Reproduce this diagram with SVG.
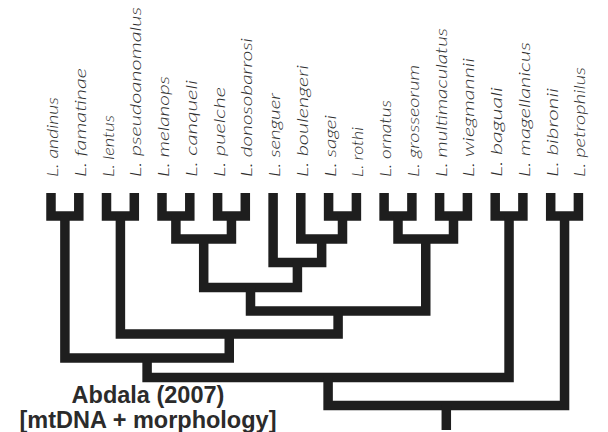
<svg xmlns="http://www.w3.org/2000/svg" width="608" height="432" viewBox="0 0 608 432">
<style>
.t{font-family:Lato,"Open Sans","Liberation Sans",sans-serif;font-style:italic;font-weight:300;font-size:16.5px;fill:#2e2e2e}
.e{fill:none;stroke:#1e1e1e;stroke-width:9.5;stroke-linejoin:miter;stroke-linecap:butt}
.cap{font-family:"Liberation Sans",Arial,sans-serif;font-weight:bold;font-size:23.5px;fill:#2b2b2b;text-anchor:middle}
</style>
<rect width="608" height="432" fill="#fff"/>
<g id="labels">
<g id="n0"><text class="t" transform="translate(58,177) rotate(-90)" textLength="80" lengthAdjust="spacingAndGlyphs">L. andinus</text></g>
<g id="n1"><text class="t" transform="translate(85.8,177) rotate(-90)" textLength="109" lengthAdjust="spacingAndGlyphs">L. famatinae</text></g>
<g id="n2"><text class="t" transform="translate(113.5,177) rotate(-90)" textLength="62" lengthAdjust="spacingAndGlyphs">L. lentus</text></g>
<g id="n3"><text class="t" transform="translate(141.3,177) rotate(-90)" textLength="170" lengthAdjust="spacingAndGlyphs">L. pseudoanomalus</text></g>
<g id="n4"><text class="t" transform="translate(169,177) rotate(-90)" textLength="101" lengthAdjust="spacingAndGlyphs">L. melanops</text></g>
<g id="n5"><text class="t" transform="translate(196.8,177) rotate(-90)" textLength="97" lengthAdjust="spacingAndGlyphs">L. canqueli</text></g>
<g id="n6"><text class="t" transform="translate(224.6,177) rotate(-90)" textLength="90" lengthAdjust="spacingAndGlyphs">L. puelche</text></g>
<g id="n7"><text class="t" transform="translate(252.3,177) rotate(-90)" textLength="139" lengthAdjust="spacingAndGlyphs">L. donosobarrosi</text></g>
<g id="n8"><text class="t" transform="translate(280.1,177) rotate(-90)" textLength="84" lengthAdjust="spacingAndGlyphs">L. senguer</text></g>
<g id="n9"><text class="t" transform="translate(307.8,177) rotate(-90)" textLength="112" lengthAdjust="spacingAndGlyphs">L. boulengeri</text></g>
<g id="n10"><text class="t" transform="translate(335.6,177) rotate(-90)" textLength="62" lengthAdjust="spacingAndGlyphs">L. sagei</text></g>
<g id="n11"><text class="t" transform="translate(363.4,177) rotate(-90)" textLength="50" lengthAdjust="spacingAndGlyphs">L. rothi</text></g>
<g id="n12"><text class="t" transform="translate(391.1,177) rotate(-90)" textLength="77" lengthAdjust="spacingAndGlyphs">L. ornatus</text></g>
<g id="n13"><text class="t" transform="translate(418.9,177) rotate(-90)" textLength="112" lengthAdjust="spacingAndGlyphs">L. grosseorum</text></g>
<g id="n14"><text class="t" transform="translate(446.6,177) rotate(-90)" textLength="149" lengthAdjust="spacingAndGlyphs">L. multimaculatus</text></g>
<g id="n15"><text class="t" transform="translate(474.4,177) rotate(-90)" textLength="119" lengthAdjust="spacingAndGlyphs">L. wiegmannii</text></g>
<g id="n16"><text class="t" transform="translate(502.2,177) rotate(-90)" textLength="90" lengthAdjust="spacingAndGlyphs">L. baguali</text></g>
<g id="n17"><text class="t" transform="translate(529.9,177) rotate(-90)" textLength="135" lengthAdjust="spacingAndGlyphs">L. magellanicus</text></g>
<g id="n18"><text class="t" transform="translate(557.7,177) rotate(-90)" textLength="89" lengthAdjust="spacingAndGlyphs">L. bibronii</text></g>
<g id="n19"><text class="t" transform="translate(585.4,177) rotate(-90)" textLength="110" lengthAdjust="spacingAndGlyphs">L. petrophilus</text></g>
</g>
<g id="connectors">
<path class="e" d="M51 193V216H78.8V193"/>
<path class="e" d="M106.5 193V216H134.3V193"/>
<path class="e" d="M162 193V216H189.8V193"/>
<path class="e" d="M217.6 193V216H245.3V193"/>
<path class="e" d="M328.6 193V216H356.4V193"/>
<path class="e" d="M384.1 193V216H411.9V193"/>
<path class="e" d="M439.6 193V216H467.4V193"/>
<path class="e" d="M495.2 193V216H522.9V193"/>
<path class="e" d="M550.7 193V216H578.4V193"/>
<path class="e" d="M175.9 216V239H231.45V216"/>
<path class="e" d="M300.8 193V239H342.5V216"/>
<path class="e" d="M273.1 193V262.5H321.65V239"/>
<path class="e" d="M203.7 239V287.5H297.4V262.5"/>
<path class="e" d="M398 216V239H453.5V216"/>
<path class="e" d="M250.5 287.5V311H425.75V239"/>
<path class="e" d="M120.4 216V334H338.1V311"/>
<path class="e" d="M64.9 216V358H229.25V334"/>
<path class="e" d="M147.1 358V377.5H509.05V216"/>
<path class="e" d="M328.1 377.5V405.5H564.55V216"/>
<path class="e" d="M446.3 405.5V430"/>
</g>
<g id="caption">
<text class="cap" x="148" y="403">Abdala (2007)</text>
<text class="cap" x="148" y="427.5">[mtDNA + morphology]</text>
</g>
</svg>
